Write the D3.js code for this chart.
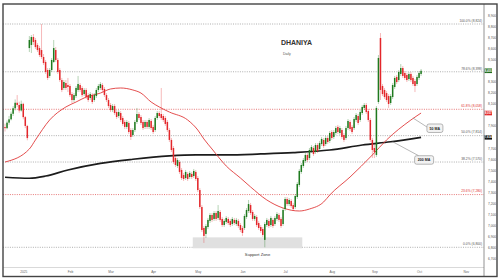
<!DOCTYPE html>
<html><head><meta charset="utf-8">
<script src="https://cdn.jsdelivr.net/npm/d3@7"></script>
<style>body{margin:0;background:#fff}svg{display:block}</style>
</head><body>
<svg id="c" width="500" height="280"></svg>
<script>
// ---------- DATA ----------
const startDate = "2024-12-19"; // first candle (weekday trading days)
const opens = [
7890,7880,7930,7960,8010,8060,8110,8090,8040,8100,7980,7900,
8606,8634,8706,8679,8634,8606,8588,8525,8480,8407,8353,8407,8480,8588,8498,8407,8316,8244,
8289,8271,8262,8189,8135,8171,8226,8271,8244,8189,8226,8180,8153,8180,8135,8171,8226,8244,
8271,8235,8180,8135,8090,8044,8081,8026,7990,8017,7972,7936,7891,7927,7863,7818,7863,7936,
8008,7981,7936,7891,7936,7891,7945,7891,7863,7972,8017,8008,7990,7972,7936,7863,
7773,7700,7609,7537,7573,7501,7455,7428,7465,7437,7465,7446,7483,7428,7319,7165,6975,6921,
6984,7039,7093,7057,7111,7066,7120,7057,7002,7030,7057,7039,7011,7048,7011,7039,7002,6975,
6975,7075,7129,7183,7120,7057,7075,7020,6984,6966,6867,7002,7039,7002,7048,7011,7057,7093,
7057,7011,7147,7238,7192,7220,7183,7165,7256,7365,7483,7537,7582,7637,7609,7673,7700,7664,
7727,7691,7736,7773,7736,7791,7764,7845,7800,7836,7891,7836,7863,7818,7791,7881,7936,7891,
7881,7954,7990,7954,8017,8063,8090,8035,7954,7773,7700,7637,8117,8697,8262,8226,8198,8171,
8108,8162,8253,8344,8316,8371,8425,8380,8362,8325,8371,8335,8307,8280,8335,8371];
const highs = [
7920,7950,7990,8030,8080,8140,8180,8120,8130,8110,7990,7910,
8715,8724,8733,8697,8652,8625,8824,8552,8498,8425,8425,8516,8679,8615,8516,8425,8335,8316,
8316,8335,8280,8207,8198,8262,8353,8289,8262,8244,8244,8198,8207,8198,8198,8244,8280,8298,
8289,8253,8198,8153,8108,8099,8099,8044,8044,8035,7990,7954,7954,7945,7881,7881,7954,8063,
8026,7999,7954,7954,7954,7972,7963,7909,7990,8035,8035,8244,8008,7990,7954,7881,
7791,7718,7628,7609,7591,7519,7474,7501,7483,7492,7483,7510,7501,7446,7337,7183,6993,7011,
7066,7111,7111,7129,7129,7183,7138,7075,7057,7084,7075,7057,7075,7066,7066,7057,7020,6993,
7102,7156,7229,7202,7138,7102,7093,7039,7002,6984,7030,7066,7057,7084,7066,7084,7120,7111,
7075,7156,7256,7256,7247,7238,7202,7283,7392,7510,7564,7609,7655,7655,7700,7727,7718,7745,
7745,7764,7800,7791,7809,7809,7854,7863,7863,7900,7909,7900,7881,7836,7900,7963,7954,7909,
7981,8017,8008,8044,8090,8108,8108,8053,7972,7791,7736,8081,8543,8742,8280,8244,8217,8189,
8189,8289,8353,8362,8407,8461,8443,8398,8380,8389,8389,8353,8325,8362,8398,8416];
const lows = [
7850,7870,7910,7950,7990,8040,8070,8020,8030,7960,7880,7770,
8570,8561,8634,8597,8570,8525,8507,8452,8371,8316,8335,8389,8470,8480,8371,8298,8207,8226,
8226,8207,8162,8108,8117,8153,8207,8207,8162,8171,8144,8117,8135,8099,8117,8153,8207,8226,
8207,8162,8117,8063,8026,8026,7999,7963,7972,7936,7900,7872,7872,7827,7773,7800,7845,7918,
7954,7909,7863,7872,7872,7872,7863,7827,7845,7954,7972,7954,7936,7900,7845,7754,
7664,7555,7528,7519,7465,7410,7401,7410,7401,7419,7419,7428,7401,7301,7147,6939,6840,6885,
6966,7020,7030,7039,7039,7048,7030,6984,6984,7011,7002,6984,6993,7002,6993,6975,6939,6903,
6957,7057,7111,7093,7039,7039,6984,6957,6930,6894,6800,6984,6975,6984,6975,6993,7039,7030,
6975,6993,7129,7174,7174,7156,7129,7147,7238,7347,7465,7519,7564,7573,7591,7655,7628,7646,
7655,7673,7718,7700,7718,7736,7745,7773,7782,7818,7827,7818,7782,7754,7773,7863,7854,7827,
7863,7936,7909,7936,7999,8044,8008,7936,7754,7609,7609,7619,8099,8135,8171,8144,8117,8063,
8090,8144,8235,8280,8298,8353,8335,8316,8298,8307,8298,8262,8207,8262,8316,8353];
const closes = [
7880,7930,7960,8010,8060,8110,8090,8040,8100,7980,7900,7790,
8679,8706,8661,8615,8588,8543,8525,8470,8389,8335,8407,8498,8606,8498,8389,8316,8226,8298,
8244,8253,8180,8135,8180,8244,8280,8226,8180,8226,8162,8135,8189,8117,8180,8226,8262,8280,
8226,8180,8135,8081,8044,8081,8017,7981,8026,7954,7918,7891,7936,7845,7800,7863,7936,8008,
7972,7927,7881,7936,7891,7954,7881,7845,7972,8017,7990,7972,7954,7918,7863,7773,
7682,7573,7546,7591,7483,7428,7419,7483,7419,7474,7437,7492,7419,7319,7165,6957,6903,6993,
7048,7093,7048,7111,7057,7129,7048,7002,7039,7066,7020,7002,7057,7020,7048,6993,6957,6930,
7084,7138,7192,7111,7057,7084,7002,6975,6948,6912,7011,7048,6993,7066,6993,7066,7102,7048,
6993,7138,7238,7192,7229,7174,7147,7265,7374,7492,7546,7591,7637,7591,7682,7709,7646,7727,
7673,7745,7782,7718,7791,7754,7836,7791,7845,7881,7845,7881,7800,7773,7881,7945,7872,7845,
7963,7999,7927,8026,8072,8090,8026,7954,7773,7682,7664,8063,8516,8226,8189,8162,8135,8099,
8171,8271,8335,8298,8389,8425,8353,8335,8316,8371,8316,8280,8262,8344,8380,8400];

// moving averages (candle index -> value)
const ma50Idx = [0,12,15,22,30,35,40,47,52,57,63,67,72,76,81,90,95,98,102,109,116,121,129,137,145,150,157,160,170,181,188,200,205];
const ma50Val = [7573,7691,7773,7954,8072,8117,8162,8198,8235,8244,8226,8198,8117,8072,8026,7954,7863,7782,7691,7537,7428,7347,7229,7156,7129,7147,7211,7274,7437,7637,7773,7954,8017];
const ma200Idx = [0,12,20,31,47,63,81,94,109,126,142,160,176,190,205];
const ma200Val = [7435,7426,7446,7501,7561,7598,7628,7637,7637,7646,7658,7682,7727,7757,7797];

const fibValues = [8824,8391,8051,7812,7573,7278,6800];
const fibLabels = ["100.0% (8,824)","78.6% (8,398)","61.8% (8,058)","50.0% (7,814)","38.2% (7,570)","23.6% (7,280)","0.0% (6,800)"];
const fibRed = [false,false,true,false,false,true,false];

const yTicks = [6700,6800,6900,7000,7100,7200,7300,7400,7500,7600,7700,7800,7900,8000,8100,8200,8300,8400,8500,8600,8700,8800,8900];
const monthLabels = ["2025","Feb","Mar","Apr","May","Jun","Jul","Aug","Sep","Oct","Nov"];
const lastPrice = 8400;
const boxLabels = ["8,400","8,057","7,834"];
const supportLow = 6800, supportHigh = 6890, supportFrom = 94, supportTo = 145;

// ---------- CHART ----------
const svg = d3.select("#c");
const FONT = "'Liberation Sans', Arial, sans-serif";
const plotL = 3, plotR = 484, plotT = 4, plotB = 267.5;

const dates = [];
{ let d = new Date(startDate + "T00:00:00"); while (dates.length < 245) { const w = d.getDay(); if (w !== 0 && w !== 6) dates.push(new Date(d)); d.setDate(d.getDate() + 1); } }

const x = d3.scaleLinear().domain([0, 236.5]).range([5, 485]);
const y = d3.scaleLinear().domain([6800, 8824]).range([247.3, 24]);

svg.append("rect").attr("width", 500).attr("height", 280).attr("fill", "#fff");

svg.append("defs").append("clipPath").attr("id", "clip")
  .append("rect").attr("x", plotL).attr("y", plotT).attr("width", plotR - plotL).attr("height", plotB - plotT);

// fib lines
const fibG = svg.append("g");
fibValues.forEach((v, i) => {
  const col = fibRed[i] ? "#e05555" : "#9a9a9a";
  fibG.append("line").attr("x1", plotL).attr("x2", plotR).attr("y1", y(v)).attr("y2", y(v))
    .attr("stroke", col).attr("stroke-width", 0.8).attr("stroke-dasharray", "1,1.3");
  fibG.append("text").attr("x", 482).attr("y", y(v) - 2.2).attr("text-anchor", "end")
    .attr("font-family", FONT).attr("font-size", 3.3).attr("fill", fibRed[i] ? "#e03030" : "#555")
    .text(fibLabels[i]);
});

// support zone
svg.append("rect").attr("x", x(supportFrom) - 3).attr("width", x(supportTo) - x(supportFrom) + 6)
  .attr("y", y(supportHigh)).attr("height", y(supportLow) - y(supportHigh) + 1)
  .attr("fill", "#e0e0e0");
svg.append("text").attr("x", (x(supportFrom) + x(supportTo)) / 2 + 10).attr("y", y(supportLow) + 9)
  .attr("text-anchor", "middle").attr("font-family", FONT).attr("font-size", 4.2).attr("fill", "#333")
  .text("Support Zone");

const g = svg.append("g").attr("clip-path", "url(#clip)");

// moving averages
const ma200 = ma200Idx.map((d, i) => [d, ma200Val[i]]);
const ma50 = ma50Idx.map((d, i) => [d, ma50Val[i]]);
const line = d3.line().x(d => x(d[0])).y(d => y(d[1])).curve(d3.curveMonotoneX);
g.append("path").attr("d", line(ma200)).attr("fill", "none").attr("stroke", "#1c1c1c").attr("stroke-width", 1.7);
g.append("path").attr("d", line(ma50)).attr("fill", "none").attr("stroke", "#e03a3a").attr("stroke-width", 0.9);

// candles
const candles = opens.map((o, i) => ({ i, o, h: highs[i], l: lows[i], c: closes[i] }));
const UP = "#1f7a1f", DN = "#e3272b";
const cg = g.append("g").selectAll("g").data(candles).join("g");
cg.append("line").attr("x1", d => x(d.i)).attr("x2", d => x(d.i)).attr("y1", d => y(d.h)).attr("y2", d => y(d.l))
  .attr("stroke", d => d.c >= d.o ? UP : DN).attr("stroke-opacity", 0.55).attr("stroke-width", 0.6);
cg.append("rect").attr("x", d => x(d.i) - 0.75).attr("width", 1.5)
  .attr("y", d => y(Math.max(d.o, d.c))).attr("height", d => Math.max(0.6, Math.abs(y(d.o) - y(d.c))))
  .attr("fill", d => d.c >= d.o ? UP : DN);

// MA labels
const a50 = ma50[ma50.length - 2], a200 = ma200[ma200.length - 2];
const b50x = x(a50[0]) + 16, b50y = y(a50[1]) + 4;
const b200x = x(a200[0]) + 24, b200y = y(a200[1]) + 14;
svg.append("line").attr("x1", x(a50[0]) + 2).attr("y1", y(a50[1]) - 2).attr("x2", b50x).attr("y2", b50y + 3)
  .attr("stroke", "#888").attr("stroke-width", 0.6);
svg.append("line").attr("x1", x(a200[0]) + 2).attr("y1", y(a200[1])).attr("x2", b200x + 4).attr("y2", b200y)
  .attr("stroke", "#888").attr("stroke-width", 0.6);
[[b50x, b50y, 16, "50 MA"], [b200x, b200y, 19, "200 MA"]].forEach(([bx, by, bw, t]) => {
  svg.append("rect").attr("x", bx).attr("y", by).attr("width", bw).attr("height", 8.5).attr("rx", 2)
    .attr("fill", "#f2f2f2").attr("stroke", "#8a8a8a").attr("stroke-width", 0.6);
  svg.append("text").attr("x", bx + bw / 2).attr("y", by + 5.6).attr("text-anchor", "middle")
    .attr("font-family", FONT).attr("font-weight", "bold").attr("font-size", 3.6).attr("fill", "#222").text(t);
});

// title
svg.append("text").attr("x", 296.5).attr("y", 44.5).attr("text-anchor", "middle")
  .attr("font-family", FONT).attr("font-weight", "bold").attr("font-size", 7).attr("fill", "#333").text("DHANIYA");
svg.append("text").attr("x", 283).attr("y", 54.5)
  .attr("font-family", FONT).attr("font-size", 3.5).attr("fill", "#555").text("Daily");

// value boxes on axis (positions)
const boxVals = [lastPrice, ma50Val[ma50Val.length - 1], ma200Val[ma200Val.length - 1]];
const boxCols = ["#1d6b1d", "#e3272b", "#111"];

// right axis (hide ticks hidden behind the value boxes)
const visTicks = yTicks.filter(t => boxVals.every(v => Math.abs(y(t) - y(v)) > 4.5));
const yAxis = svg.append("g").attr("transform", `translate(${plotR},0)`)
  .call(d3.axisRight(y).tickValues(visTicks).tickFormat(d3.format(",")).tickSize(0).tickPadding(4));
yAxis.select(".domain").remove();
yAxis.selectAll("text").attr("font-family", FONT).attr("font-size", 3.2).attr("fill", "#555");

// bottom axis (month starts)
const tickIdx = [];
for (let i = 1; i < dates.length; i++) if (dates[i].getMonth() !== dates[i - 1].getMonth()) tickIdx.push(i);
const ticks = tickIdx.slice(0, monthLabels.length);
const xAxis = svg.append("g").attr("transform", `translate(0,${plotB})`)
  .call(d3.axisBottom(x).tickValues(ticks).tickFormat((d, i) => monthLabels[i]).tickSize(0).tickPadding(3));
xAxis.select(".domain").remove();
xAxis.selectAll("text").attr("font-family", FONT).attr("font-size", 3.2).attr("fill", "#666");
svg.append("line").attr("x1", plotL).attr("x2", plotR).attr("y1", plotB).attr("y2", plotB).attr("stroke", "#cfcfcf").attr("stroke-width", 0.8);

boxVals.forEach((v, i) => {
  svg.append("rect").attr("x", plotR + 0.5).attr("y", y(v) - 2.3).attr("width", 7.5).attr("height", 4.6).attr("fill", boxCols[i]);
  svg.append("text").attr("x", plotR + 4.25).attr("y", y(v) + 1.1).attr("text-anchor", "middle")
    .attr("font-family", FONT).attr("font-size", 2.9).attr("font-weight", "bold").attr("fill", "#fff").text(boxLabels[i]);
});

// axis separator & frame
svg.append("line").attr("x1", plotR).attr("x2", plotR).attr("y1", 4).attr("y2", 276.5).attr("stroke", "#777").attr("stroke-width", 0.8);
svg.append("rect").attr("x", 3).attr("y", 4).attr("width", 494).attr("height", 272.5)
  .attr("fill", "none").attr("stroke", "#444").attr("stroke-width", 1.4);
</script>
</body></html>
